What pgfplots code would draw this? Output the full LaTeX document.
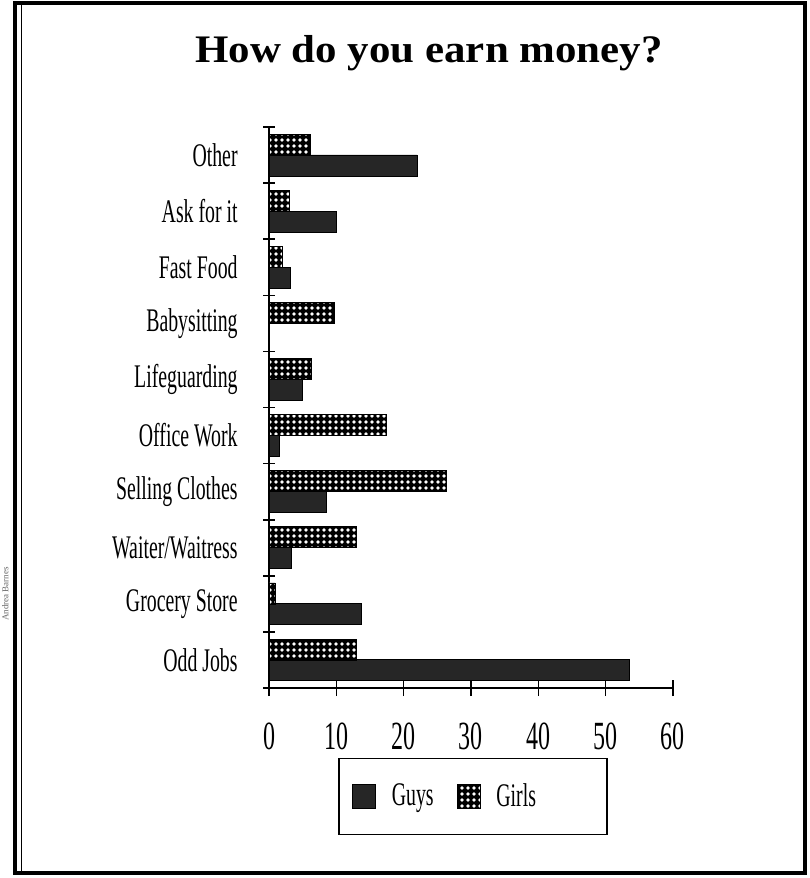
\documentclass[border=0pt]{standalone}
\usepackage{pgfplots}
\pgfplotsset{compat=1.18}
\usepackage{fontspec}
\setmainfont{Liberation Serif}
\usetikzlibrary{patterns}
\pgfdeclarepatternformonly{wdots}{\pgfqpoint{-1.5pt}{-1.5pt}}{\pgfqpoint{1.5pt}{1.5pt}}{\pgfqpoint{3pt}{3pt}}{\pgfpathcircle{\pgfqpoint{0pt}{0pt}}{0.95pt}\pgfusepath{fill}}
\newcommand\cl[1]{\scalebox{0.6}[1]{#1}}
\definecolor{guys}{HTML}{262626}
\begin{document}
\begin{tikzpicture}
\useasboundingbox (0,0) rectangle (404.5pt,-439pt);
\draw[line width=1.6pt] (7.5pt,-1.5pt) rectangle (402.5pt,-436.5pt);
\draw[line width=0.5pt] (10.8pt,-1.5pt) -- (10.8pt,-436.5pt);
\node[font=\fontsize{19.5}{22}\selectfont\bfseries, anchor=base] at (214.5pt,-31pt) {\scalebox{1.1}[1]{How do you earn money?}};
\node[rotate=90, font=\fontsize{4.5}{5}\selectfont, text=black!60] at (2.6pt,-297pt) {Andrea Barnes};
\begin{axis}[
  at={(134.5pt,-344pt)}, anchor=south west,
  scale only axis, width=202pt, height=280.5pt,
  xmin=0, xmax=60, ymin=0, ymax=10,
  axis lines*=left,
  axis line style={line width=0.8pt},
  major tick length=6pt, tick align=center,
  tick style={line width=0.8pt, black},
  xtick=\empty,
  extra x ticks={0,10,20,30,40,50,60},
  extra x tick labels={\cl{0},\cl{10},\cl{20},\cl{30},\cl{40},\cl{50},\cl{60}},
  extra x tick style={major tick length=8pt},
  xticklabel style={font=\fontsize{20}{22}\selectfont, anchor=north, inner sep=0pt, yshift=-13pt},
  ytick={0,1,...,10},
  yticklabels={},
  extra y ticks={0.5,1.5,2.5,3.5,4.5,5.5,6.5,7.5,8.5,9.5},
  extra y tick labels={\cl{Odd Jobs},\cl{Grocery Store},\cl{Waiter/Waitress},\cl{Selling Clothes},\cl{Office Work},\cl{Lifeguarding},\cl{Babysitting},\cl{Fast Food},\cl{Ask for it},\cl{Other}},
  extra y tick style={major tick length=0pt},
  yticklabel style={font=\fontsize{16.5}{18}\selectfont, anchor=east, inner sep=0pt, xshift=-15.5pt},
  legend style={at={(0.505,-0.193)}, anchor=center, legend columns=2, draw=black, line width=0.6pt,
    inner xsep=6.5pt, inner ysep=12.5pt, font=\fontsize{16.5}{18}\selectfont, nodes={inner sep=0pt},
    /tikz/every odd column/.append style={column sep=8pt},
    /tikz/every even column/.append style={column sep=11.5pt}},
  legend image code/.code={\draw[#1] (0pt,-6pt) rectangle (11.5pt,6pt);},
]
\addplot[xbar, bar width=10.5pt, bar shift=-5.2pt, fill=guys, draw=black, line width=0.4pt]
  coordinates {(53.5,0.5) (13.7,1.5) (3.3,2.5) (8.5,3.5) (1.5,4.5) (4.9,5.5) (0,6.5) (3.2,7.5) (10.0,8.5) (22.0,9.5)};
\addlegendentry{\cl{Guys}}
\addplot[xbar, bar width=10.5pt, bar shift=5.2pt, fill=black, draw=black, line width=0.4pt, postaction={pattern=wdots, pattern color=white}]
  coordinates {(13.0,0.5) (0.9,1.5) (13.0,2.5) (26.3,3.5) (17.4,4.5) (6.3,5.5) (9.7,6.5) (2.0,7.5) (3.0,8.5) (6.2,9.5)};
\addlegendentry{\cl{Girls}\rule{29pt}{0pt}}
\end{axis}
\end{tikzpicture}
\end{document}
